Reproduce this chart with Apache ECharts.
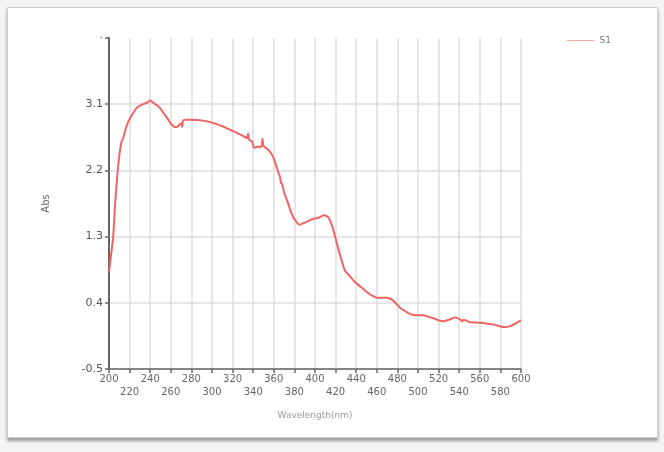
<!DOCTYPE html>
<html>
<head>
<meta charset="utf-8">
<script src="https://cdn.jsdelivr.net/npm/echarts@6/dist/echarts.min.js"></script>
<style>
  html, body { margin: 0; padding: 0; background: #f4f4f4; }
  #frame { position: absolute; left: 7px; top: 7px; width: 649px; height: 429px; background: #fff; border: 1px solid #cfcfcf; box-shadow: 0 3px 3px #9a9a9a; }
  #chart { position: absolute; left: 0; top: 0; width: 664px; height: 452px; }
</style>
</head>
<body>
<div id="frame"></div>
<div id="chart"></div>
<script>
const seriesName = 'S1';
const xAxisTitle = 'Wavelength(nm)';
const yAxisTitle = 'Abs';
const wavelength = [200,202,204,206,208,210,212,214,216,219,223,227,233,237,240,242,248,254,258,261,264,267,270,271,272,275,280,290,300,310,321,330,334,335,336,339,341,345,348,349,350,353,357,360,364,366,367,368,370,373,376,379,382,385,390,398,404,409,413,416,418,421,423,426,429,434,439,445,450,455,460,465,470,476,482,487,492,498,505,510,515,520,525,530,536,540,543,544,550,558,566,575,583,589,595,600];
const absorbance = [0.82,1.05,1.29,1.75,2.12,2.40,2.58,2.65,2.76,2.87,2.97,3.05,3.10,3.12,3.15,3.13,3.07,2.96,2.88,2.82,2.79,2.80,2.84,2.79,2.88,2.89,2.89,2.88,2.85,2.80,2.73,2.67,2.64,2.70,2.62,2.59,2.51,2.52,2.52,2.63,2.53,2.50,2.44,2.36,2.19,2.11,2.03,2.02,1.90,1.79,1.66,1.56,1.50,1.46,1.49,1.54,1.56,1.59,1.56,1.47,1.38,1.22,1.11,0.97,0.84,0.76,0.68,0.61,0.55,0.50,0.47,0.47,0.47,0.43,0.34,0.29,0.25,0.23,0.23,0.21,0.19,0.16,0.15,0.17,0.20,0.18,0.15,0.17,0.14,0.13,0.12,0.10,0.07,0.08,0.12,0.16];
const yTicks = [-0.5, 0.4, 1.3, 2.2, 3.1, 4.0];
const xMin = 200, xMax = 600, xStep = 20;

const chart = echarts.init(document.getElementById('chart'), null, { renderer: 'canvas' });
const data = wavelength.map((w, i) => [w, absorbance[i]]);
chart.setOption({
  backgroundColor: 'transparent',
  animation: false,
  grid: { left: 109, right: 143, top: 38, bottom: 83 },
  legend: {
    right: 48, top: 31,
    itemWidth: 28, itemHeight: 8,
    icon: 'path://M0,4L28,4L28,5L0,5Z',
    textStyle: { fontSize: 9, color: '#777', fontFamily: 'DejaVu Sans' },
    data: [{ name: seriesName, itemStyle: { color: '#f7a8a8' } }]
  },
  xAxis: {
    type: 'value', min: xMin, max: xMax, interval: xStep,
    name: xAxisTitle, nameLocation: 'middle', nameGap: 42,
    nameTextStyle: { fontSize: 9, color: '#999', fontFamily: 'DejaVu Sans' },
    axisLine: { onZero: false, lineStyle: { color: '#666', width: 1.5 } },
    axisTick: { show: true, length: 4, lineStyle: { color: '#666', width: 1.5 } },
    axisLabel: {
      fontSize: 10, color: '#666', fontFamily: 'DejaVu Sans', margin: 4, lineHeight: 13,
      formatter: v => (((v - xMin) / xStep) % 2 === 1 ? '\n' : '') + v
    },
    splitLine: { show: true, lineStyle: { color: '#dedede', width: 1.5 } }
  },
  yAxis: {
    type: 'value', min: yTicks[0], max: yTicks[yTicks.length - 1], interval: 0.9,
    name: yAxisTitle, nameLocation: 'middle', nameGap: 58, nameRotate: 90,
    nameTextStyle: { fontSize: 10, color: '#666', fontFamily: 'DejaVu Sans' },
    axisLine: { show: true, onZero: false, lineStyle: { color: '#666', width: 2 } },
    axisTick: { show: true, length: 4, lineStyle: { color: '#666', width: 1.5 } },
    axisLabel: {
      fontSize: 11, color: '#555', fontFamily: 'DejaVu Sans', margin: 6,
      formatter: v => Math.abs(v - 4.0) < 1e-6 ? '·' : v.toFixed(1)
    },
    splitLine: { show: true, showMaxLine: false, lineStyle: { color: '#dedede', width: 1.5 } }
  },
  series: [{
    name: seriesName, type: 'line', data: data, smooth: 0.2,
    showSymbol: false, symbol: 'none',
    lineStyle: { color: '#f06464', width: 2 },
    itemStyle: { color: '#f7a8a8' }
  }]
});
</script>
</body>
</html>
